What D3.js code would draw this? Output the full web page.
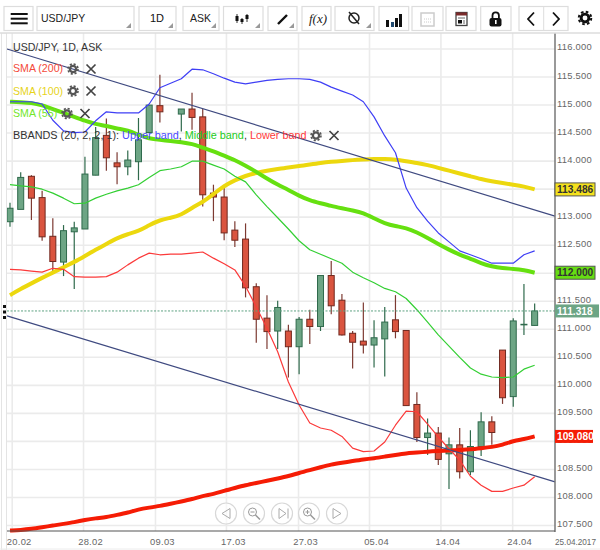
<!DOCTYPE html>
<html>
<head>
<meta charset="utf-8">
<script src="https://cdnjs.cloudflare.com/ajax/libs/d3/7.8.5/d3.min.js"></script>
<style>
body { margin: 0; background: #fff; }
svg { display: block; font-family: "Liberation Sans", Arial, sans-serif; }
.grid line { stroke: #ebebeb; stroke-width: 1.6; }
.grid path { display: none; }
.axis path, .axis line { display: none; }
.axis text { fill: #666; font-size: 9.4px; letter-spacing: .25px; font-family: "Liberation Sans", Arial, sans-serif; }
</style>
</head>
<body>
<svg width="600" height="550"></svg>
<script>
//data
const xLabels = ["20.02", "28.02", "09.03", "17.03", "27.03", "05.04", "14.04", "24.04"];
const xTickSlots = [0.16, 6.82, 13.54, 20.17, 26.9, 33.53, 40.2, 46.9];
const yTicks = [107.5, 108, 108.5, 109, 109.5, 110, 110.5, 111, 111.5, 112, 112.5, 113, 113.5, 114, 114.5, 115, 115.5, 116];

const openVals = [112.91,113.13,113.72,113.34,112.65,112.19,112.73,112.78,113.74,114.45,113.96,113.89,113.98,114.50,114.98,null,114.83,114.92,114.78,113.42,113.35,112.76,112.60,111.75,111.19,110.96,110.96,110.68,111.17,111.04,111.95,111.51,110.92,110.78,110.71,110.82,111.16,110.97,109.65,109.06,109.14,108.77,108.93,108.45,108.90,109.34,110.62,109.79,111.07,111.06];
const closeVals = [113.15,113.70,113.33,112.64,112.20,112.75,112.80,113.76,114.41,114.05,113.89,114.01,114.37,114.99,114.87,null,114.92,114.77,113.39,113.35,112.71,112.58,111.73,111.17,110.95,111.38,110.68,111.17,111.04,111.95,111.41,110.89,110.76,110.71,110.84,111.12,110.95,109.63,109.06,109.14,108.67,108.93,108.45,108.90,109.34,109.15,109.77,111.14,111.08,111.318];
const highVals = [113.25,113.79,113.74,113.46,112.97,112.85,112.91,114.07,114.60,114.75,114.15,114.18,114.76,114.99,115.53,null,114.92,115.21,114.92,113.57,113.51,112.92,112.88,111.81,111.60,111.50,111.07,111.21,111.34,111.95,112.21,111.62,110.96,111.47,111.15,111.39,111.60,110.97,109.87,109.40,109.25,109.06,109.23,109.19,109.51,109.44,110.62,111.19,111.80,111.45];
const lowVals = [112.82,113.13,112.94,112.57,112.02,111.94,111.71,112.78,113.74,113.82,113.58,113.74,113.65,114.50,114.68,null,114.52,114.55,113.18,112.92,112.58,112.46,111.56,110.75,110.64,110.64,110.13,110.19,110.73,110.96,111.26,110.88,110.29,110.56,110.31,110.15,110.83,109.63,108.98,108.75,108.57,108.14,108.33,108.39,108.73,108.93,109.66,109.61,110.89,111.06];

const upperBand = [115.05,115.05,115.05,115.01,114.72,114.53,114.50,114.51,114.71,114.87,114.85,114.85,114.85,115.01,115.30,115.38,115.46,115.63,115.62,115.55,115.47,115.40,115.37,115.40,115.43,115.45,115.46,115.46,115.45,115.40,115.31,115.24,115.17,115.05,114.78,114.44,114.14,113.51,113.16,112.92,112.71,112.55,112.39,112.32,112.25,112.17,112.17,112.17,112.32,112.39];
const middleBand = [113.57,113.55,113.53,113.49,113.42,113.33,113.23,113.24,113.33,113.40,113.46,113.51,113.57,113.70,113.82,113.85,113.89,113.99,113.99,113.92,113.85,113.72,113.62,113.39,113.18,112.98,112.78,112.57,112.41,112.33,112.25,112.17,112.01,111.91,111.82,111.72,111.66,111.54,111.34,111.12,110.89,110.69,110.49,110.30,110.19,110.14,110.13,110.14,110.28,110.35];
const lowerBand = [112.06,112.05,112.03,112.01,112.08,112.06,111.93,111.92,111.92,111.93,112.01,112.14,112.26,112.35,112.32,112.33,112.33,112.35,112.37,112.26,112.16,112.05,111.76,111.39,111.01,110.59,110.05,109.64,109.32,109.23,109.19,109.08,108.87,108.81,108.82,108.98,109.28,109.53,109.52,109.30,109.07,108.86,108.66,108.37,108.21,108.10,108.10,108.16,108.21,108.36];
const sma55 = [115.05,115.04,115.03,114.99,114.92,114.85,114.78,114.71,114.65,114.62,114.57,114.54,114.46,114.39,114.37,114.35,114.33,114.30,114.23,114.17,114.09,114.01,113.91,113.80,113.68,113.57,113.48,113.37,113.29,113.24,113.19,113.15,113.11,113.07,112.97,112.88,112.83,112.80,112.72,112.62,112.51,112.41,112.32,112.25,112.17,112.11,112.08,112.07,112.05,112.00];
const sma100 = [111.60,111.71,111.81,111.91,112.00,112.10,112.19,112.30,112.41,112.51,112.62,112.69,112.74,112.85,112.94,112.98,113.03,113.16,113.26,113.40,113.55,113.65,113.73,113.78,113.82,113.85,113.88,113.90,113.93,113.96,113.98,113.99,114.01,114.02,114.03,114.03,114.02,113.99,113.96,113.92,113.87,113.82,113.77,113.72,113.67,113.63,113.60,113.57,113.54,113.486];
const sma200 = [107.40,107.41,107.43,107.46,107.49,107.52,107.55,107.59,107.62,107.64,107.68,107.72,107.78,107.81,107.84,107.88,107.92,107.96,108.02,108.05,108.11,108.16,108.21,108.25,108.29,108.33,108.37,108.43,108.48,108.53,108.58,108.61,108.64,108.67,108.69,108.72,108.75,108.78,108.79,108.81,108.82,108.83,108.84,108.85,108.87,108.89,108.93,109.00,109.03,109.08];

const trendSlots = [-0.28, 50.9];
const trendUpper = [115.99, 113.01];
const trendLower = [111.23, 108.27];
const lastPrice = 111.318;

//layout
const plotLeft = 7, plotRight = 555, plotTop = 33, plotBottom = 531;
const svg = d3.select("svg");

//scales
const xScale = d3.scaleLinear().domain([-0.28, 50.9]).range([plotLeft, plotRight]);
const yScale = d3.scaleLinear().domain([107.393, 116.276]).range([plotBottom, plotTop]);

//grid
svg.append("g").attr("class", "grid")
    .attr("transform", "translate(0," + plotTop + ")")
    .call(d3.axisBottom(xScale).tickValues(xTickSlots).tickSize(plotBottom - plotTop).tickFormat(""));
svg.append("g").attr("class", "grid")
    .attr("transform", "translate(" + plotLeft + ",0)")
    .call(d3.axisRight(yScale).tickValues(yTicks).tickSize(plotRight - plotLeft).tickFormat(""));

//candles
const upFill = "#6da585", upLine = "#2f6a4c", downFill = "#da543f", downLine = "#70291f";
const candles = svg.append("g").selectAll("g")
    .data(d3.range(openVals.length).filter(i => openVals[i] !== null))
    .enter().append("g");
candles.append("line")
    .attr("x1", i => xScale(i)).attr("x2", i => xScale(i))
    .attr("y1", i => yScale(highVals[i])).attr("y2", i => yScale(lowVals[i]))
    .attr("stroke", i => closeVals[i] >= openVals[i] ? upLine : "#7d3a32")
    .attr("stroke-width", 1.2);
candles.append("rect")
    .attr("x", i => xScale(i) - 3)
    .attr("width", 6)
    .attr("y", i => yScale(Math.max(openVals[i], closeVals[i])))
    .attr("height", i => Math.abs(yScale(openVals[i]) - yScale(closeVals[i])))
    .attr("fill", i => closeVals[i] >= openVals[i] ? upFill : downFill)
    .attr("stroke", i => closeVals[i] >= openVals[i] ? upLine : downLine)
    .attr("stroke-width", 1);

//indicator lines
const line = d3.line().x((d, i) => xScale(i)).y(d => yScale(d));
const smoothLine = d3.line().x((d, i) => xScale(i)).y(d => yScale(d)).curve(d3.curveBasis);
function addLine(gen, values, color, w) {
    svg.append("path").attr("d", gen(values))
        .attr("fill", "none").attr("stroke", color).attr("stroke-width", w)
        .attr("stroke-linejoin", "round");
}
addLine(smoothLine, sma200, "#f51c05", 4);
addLine(smoothLine, sma100, "#ecd80e", 4);
addLine(smoothLine, sma55, "#66e010", 4);
addLine(line, upperBand, "#3f3ff5", 1.2);
addLine(line, middleBand, "#33cf33", 1.2);
addLine(line, lowerBand, "#fb3a3a", 1.2);

//trend lines
[trendUpper, trendLower].forEach(t => {
    svg.append("line")
        .attr("x1", xScale(trendSlots[0])).attr("x2", xScale(trendSlots[1]))
        .attr("y1", yScale(t[0])).attr("y2", yScale(t[1]))
        .attr("stroke", "#3f4a80").attr("stroke-width", 1.2);
});

//last price line
svg.append("line")
    .attr("x1", plotLeft).attr("x2", plotRight)
    .attr("y1", yScale(lastPrice)).attr("y2", yScale(lastPrice))
    .attr("stroke", "#5fa283").attr("stroke-width", 1).attr("stroke-dasharray", "2,1.5");

//axes
svg.append("line").attr("x1", plotRight).attr("x2", plotRight).attr("y1", plotTop).attr("y2", plotBottom + 1)
    .attr("stroke", "#777").attr("stroke-width", 1.5);
svg.append("line").attr("x1", plotLeft).attr("x2", plotRight).attr("y1", plotBottom).attr("y2", plotBottom)
    .attr("stroke", "#555").attr("stroke-width", 1.2);
svg.append("g").attr("class", "axis")
    .attr("transform", "translate(" + plotRight + ",-1.5)")
    .call(d3.axisRight(yScale).tickValues(yTicks).tickSize(0).tickPadding(2).tickFormat(d3.format(".3f")));
svg.append("g").attr("class", "axis")
    .attr("transform", "translate(7," + plotBottom + ")")
    .call(d3.axisBottom(xScale).tickValues(xTickSlots).tickSize(0).tickPadding(7)
        .tickFormat((d, i) => xLabels[i]));
svg.append("text").attr("x", 555).attr("y", 545).attr("font-size", 8.2).attr("fill", "#666").text("25.04.2017");

//panel edge
svg.append("rect").attr("x", 1.5).attr("y", 33).attr("width", 5).attr("height", 517).attr("fill", "#fff").attr("stroke", "#e4e4e4");
svg.append("line").attr("x1", 0).attr("x2", 600).attr("y1", 549).attr("y2", 549).attr("stroke", "#ececec");
[306.5, 312, 317.5].forEach(y => svg.append("rect").attr("x", 3).attr("y", y - 1.5).attr("width", 3).attr("height", 3).attr("fill", "#111"));

//price tags
function tag(value, bg, fg, w) {
    const y = yScale(value);
    svg.append("rect").attr("x", 555).attr("y", y - 6.5).attr("width", w).attr("height", 13)
        .attr("fill", bg).attr("stroke", bg === "#f5e21c" || bg === "#66dd12" ? "#555" : "none");
    svg.append("text").attr("x", 557).attr("y", y + 3.7).attr("font-size", 10.2).attr("font-weight", "bold")
        .attr("fill", fg).text(d3.format(".3f")(value));
}
tag(113.486, "#f5e21c", "#333", 40);
tag(112, "#66dd12", "#333", 40);
tag(lastPrice, "#6da585", "#fff", 44);
tag(109.08, "#f51c05", "#fff", 38);

//legend icons
function gear(x, y, s, c) {
    const g = svg.append("g").attr("transform", "translate(" + x + "," + y + ") scale(" + s + ")");
    g.append("circle").attr("r", 3.1).attr("fill", "none").attr("stroke", c).attr("stroke-width", 2.3);
    g.append("circle").attr("r", 5).attr("fill", "none").attr("stroke", c).attr("stroke-width", 1.6)
        .attr("stroke-dasharray", "2.1,1.83");
}
function cross(x, y) {
    const p = "M" + (x - 4.5) + "," + (y - 4.5) + "L" + (x + 4.5) + "," + (y + 4.5) + "M" + (x + 4.5) + "," + (y - 4.5) + "L" + (x - 4.5) + "," + (y + 4.5);
    svg.append("path").attr("d", p).attr("stroke", "#444").attr("stroke-width", 1.7).attr("fill", "none");
}

//legend
function legendText(y) {
    return svg.append("text").attr("x", 13).attr("y", y + 3.7).attr("font-size", 10.6).attr("fill", "#333");
}
legendText(47).text("USD/JPY, 1D, ASK");
legendText(68.5).attr("fill", "#f44a3a").text("SMA (200)");
legendText(91).attr("fill", "#e6d31a").text("SMA (100)");
legendText(113).attr("fill", "#72e62a").text("SMA (55)");
const bb = legendText(135).attr("font-size", 10.85);
bb.append("tspan").text("BBANDS (20, 2, 2, 1): ");
bb.append("tspan").attr("fill", "#4a4aff").text("Upper band");
bb.append("tspan").text(", ");
bb.append("tspan").attr("fill", "#22cc22").text("Middle band");
bb.append("tspan").text(", ");
bb.append("tspan").attr("fill", "#ff3a3a").text("Lower band");
gear(73, 69, 1, "#555"); cross(91, 69);
gear(73, 91, 1, "#555"); cross(91, 91);
gear(67, 113.5, 1, "#555"); cross(85, 113.5);
gear(316, 135.5, 1, "#555"); cross(334, 135.5);

//toolbar
svg.append("rect").attr("width", 600).attr("height", 33).attr("fill", "#fff");
svg.append("line").attr("x1", 0).attr("x2", 600).attr("y1", 33).attr("y2", 33).attr("stroke", "#ddd").attr("stroke-width", 1.5);
const boxes = [[4, 33, 0], [37, 134, 1], [139, 176, 1], [183, 219, 1], [223.5, 263, 1], [268, 297, 1], [302, 331, 0], [335, 374, 1], [379, 408.7, 0], [412, 443, 0], [446, 476, 0], [480.7, 511, 0], [519, 568, 0]];
boxes.forEach(b => {
    svg.append("rect").attr("x", b[0]).attr("y", 6.5).attr("width", b[1] - b[0]).attr("height", 24)
        .attr("fill", "#fff").attr("stroke", "#ddd").attr("stroke-width", 1.2);
    if (b[2]) {
        svg.append("path").attr("d", "M" + (b[1] - 3) + ",23L" + (b[1] - 3) + ",28L" + (b[1] - 8) + ",28Z").attr("fill", "#999");
    }
});
[14, 18.7, 23.3].forEach(y => svg.append("rect").attr("x", 10.7).attr("y", y - 1).attr("width", 17).attr("height", 2).attr("fill", "#111"));
svg.append("text").attr("x", 41).attr("y", 22).attr("font-size", 10.5).attr("fill", "#222").text("USD/JPY");
svg.append("text").attr("x", 150).attr("y", 22).attr("font-size", 11).attr("fill", "#111").text("1D");
svg.append("text").attr("x", 190).attr("y", 22).attr("font-size", 10.5).attr("fill", "#222").text("ASK");

//candle icon
[[237, 14, 23, 16, 21], [242, 18, 24, 19, 22], [247, 14, 22, 15, 19]].forEach(c => {
    svg.append("line").attr("x1", c[0]).attr("x2", c[0]).attr("y1", c[1]).attr("y2", c[2]).attr("stroke", "#333");
    svg.append("rect").attr("x", c[0] - 1.5).attr("y", c[3]).attr("width", 3).attr("height", c[4] - c[3]).attr("fill", "#111");
});
//pencil icon
svg.append("path").attr("d", "M278,24L287,15").attr("stroke", "#111").attr("stroke-width", 2.4);
//f(x)
svg.append("text").attr("x", 309).attr("y", 23).attr("font-family", "Liberation Serif").attr("font-style", "italic").attr("font-size", 13).attr("fill", "#222").text("f(x)");
//tool icon
svg.append("circle").attr("cx", 354).attr("cy", 18).attr("r", 5).attr("fill", "none").attr("stroke", "#222").attr("stroke-width", 1.5);
svg.append("path").attr("d", "M349,12L359,24").attr("stroke", "#222").attr("stroke-width", 1.5);
//bars icon
[[387, 20, 3], [392, 22, 3], [396, 18, 3], [400, 14, 3]].forEach(b => {
    svg.append("rect").attr("x", b[0] - 1).attr("y", b[1]).attr("width", b[2]).attr("height", 27 - b[1]).attr("fill", b[0] === 392 ? "#204a70" : "#111");
});
//calendar icon
svg.append("rect").attr("x", 421).attr("y", 13).attr("width", 13).attr("height", 13).attr("fill", "#fff").attr("stroke", "#ccc").attr("stroke-width", 1.5);
svg.append("path").attr("d", "M424,19h7M424,22h7").attr("stroke", "#ccc").attr("stroke-dasharray", "1,1");
//news icon
svg.append("rect").attr("x", 456).attr("y", 12.5).attr("width", 11).attr("height", 13).attr("fill", "#fff").attr("stroke", "#444").attr("stroke-width", 1.3);
svg.append("rect").attr("x", 456).attr("y", 12.5).attr("width", 11).attr("height", 3).attr("fill", "#7a2a2a");
svg.append("rect").attr("x", 458).attr("y", 20).attr("width", 4).attr("height", 3.5).attr("fill", "#111");
svg.append("path").attr("d", "M458,18h7M463,21h2M463,23h2").attr("stroke", "#666");
//lock icon
svg.append("path").attr("d", "M492.5,18V15.5a3.2,3.2 0 0 1 6.4,0V18").attr("fill", "none").attr("stroke", "#111").attr("stroke-width", 1.8);
svg.append("rect").attr("x", 489.5).attr("y", 18).attr("width", 12).attr("height", 8.5).attr("rx", 2).attr("fill", "#111");
svg.append("rect").attr("x", 495).attr("y", 20).attr("width", 1.6).attr("height", 4).attr("fill", "#fff");
//arrows
svg.append("line").attr("x1", 543.7).attr("x2", 543.7).attr("y1", 6.5).attr("y2", 30.5).attr("stroke", "#ddd");
svg.append("path").attr("d", "M534,12.5L528,19L534,25.5M553,12.5L559,19L553,25.5").attr("fill", "none").attr("stroke", "#111").attr("stroke-width", 1.8);
gear(585, 18, 1.25, "#111");

//bottom buttons
const navX = [226, 254, 282, 309, 337];
navX.forEach(x => svg.append("circle").attr("cx", x).attr("cy", 513.5).attr("r", 10.5).attr("fill", "#fff").attr("fill-opacity", .6).attr("stroke", "#d8d8d8").attr("stroke-width", 1.2));
const navPath = "#aaa";
svg.append("path").attr("d", "M230,508.5L222,513.5L230,518.5Z").attr("fill", "none").attr("stroke", navPath);
svg.append("path").attr("d", "M279,508.5L286,513.5L279,518.5ZM288,508.5V518.5").attr("fill", "none").attr("stroke", navPath);
svg.append("path").attr("d", "M333,508.5L341,513.5L333,518.5Z").attr("fill", "none").attr("stroke", navPath);
[254, 309].forEach((x, i) => {
    svg.append("circle").attr("cx", x - 1.5).attr("cy", 512).attr("r", 4).attr("fill", "none").attr("stroke", "#999");
    svg.append("path").attr("d", "M" + (x + 1.5) + ",515L" + (x + 6) + ",519.5").attr("stroke", "#999").attr("stroke-width", 1.5);
    svg.append("path").attr("d", i ? "M" + (x - 3.5) + ",512h4M" + (x - 1.5) + ",510v4" : "M" + (x - 3.5) + ",512h4").attr("stroke", "#999");
});
</script>
</body>
</html>
